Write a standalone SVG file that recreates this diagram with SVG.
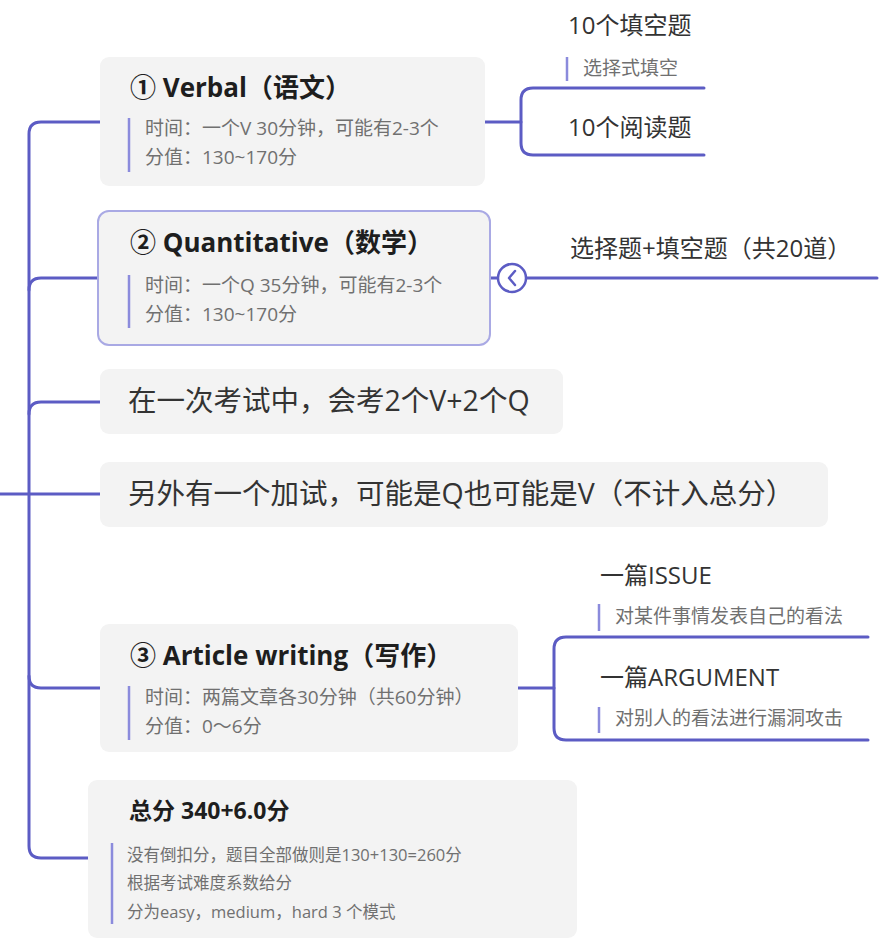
<svg xmlns="http://www.w3.org/2000/svg" width="888" height="946" viewBox="0 0 888 946">
<style>
.box{fill:#f3f3f3}
.ln{fill:none;stroke:#5c5cc4;stroke-width:3;stroke-linecap:round}
.bar{stroke:#8b8bdc;stroke-width:2.5}
text{font-family:"Open Sans","Noto Sans CJK SC",sans-serif}
.title{font-size:26px;font-weight:bold;fill:#1e1e1e}
.sub{font-size:19px;fill:#707070}
.main{font-size:28.5px;fill:#333}
.topic{font-size:24px;fill:#333}
.tsub{font-size:16.5px}
</style>
<rect width="888" height="946" fill="#fff"/>
<g id="connectors">
<path class="ln" d="M100,122 H41 Q29,122 29,134 V846 Q29,858 41,858 H88"/>
<path class="ln" d="M29,290 Q29,278 41,278 H98"/>
<path class="ln" d="M29,414 Q29,402 41,402 H100"/>
<path class="ln" d="M0,494 H100"/>
<path class="ln" d="M29,676 Q29,688 41,688 H100"/>
<path class="ln" d="M485,122 H521"/>
<path class="ln" d="M704,88 H533 Q521,88 521,100 V143 Q521,155 533,155 H704"/>
<path class="ln" d="M490,278 H498"/>
<path class="ln" d="M526,278 H877"/>
<path class="ln" d="M518,688 H554"/>
<path class="ln" d="M868,637 H566 Q554,637 554,649 V728 Q554,740 566,740 H868"/>
</g>
<g id="collapse">
<circle cx="512" cy="278" r="14" fill="#fff" stroke="#5c5cc4" stroke-width="2.5"/>
<path d="M515,271 L509,278 L515,285" fill="none" stroke="#5c5cc4" stroke-width="2.5" stroke-linecap="round" stroke-linejoin="round"/>
</g>
<g id="verbal">
<rect class="box" x="100" y="57" width="385" height="129" rx="9"/>
<text class="title" x="130" y="97">① Verbal（语文）</text>
<line class="bar" x1="129" y1="118" x2="129" y2="172"/>
<text class="sub" x="145" y="135">时间：一个V 30分钟，可能有2-3个</text>
<text class="sub" x="145" y="164">分值：130~170分</text>
</g>
<g id="fill-blank">
<text class="topic" x="568" y="34">10个填空题</text>
<line class="bar" x1="567" y1="57" x2="567" y2="81"/>
<text class="sub" x="583" y="75">选择式填空</text>
</g>
<g id="reading">
<text class="topic" x="568" y="136">10个阅读题</text>
</g>
<g id="quant">
<rect class="box" x="98" y="211" width="392" height="134" rx="11" stroke="#a9a9e4" stroke-width="2"/>
<text class="title" x="130" y="252">② Quantitative（数学）</text>
<line class="bar" x1="129" y1="275" x2="129" y2="328"/>
<text class="sub" x="145" y="292">时间：一个Q 35分钟，可能有2-3个</text>
<text class="sub" x="145" y="321">分值：130~170分</text>
</g>
<g id="quant-types">
<text class="topic" x="570" y="257">选择题+填空题（共20道）</text>
</g>
<g id="exam-count">
<rect class="box" x="100" y="369" width="463" height="65" rx="9"/>
<text class="main" x="128" y="411">在一次考试中，会考2个V+2个Q</text>
</g>
<g id="extra">
<rect class="box" x="100" y="462" width="728" height="65" rx="9"/>
<text class="main" x="128" y="504">另外有一个加试，可能是Q也可能是V（不计入总分）</text>
</g>
<g id="writing">
<rect class="box" x="100" y="624" width="418" height="128" rx="9"/>
<text class="title" x="130" y="665">③ Article writing（写作）</text>
<line class="bar" x1="129" y1="686" x2="129" y2="740"/>
<text class="sub" x="145" y="704">时间：两篇文章各30分钟（共60分钟）</text>
<text class="sub" x="145" y="733">分值：0～6分</text>
</g>
<g id="issue">
<text class="topic" x="600" y="584">一篇ISSUE</text>
<line class="bar" x1="599" y1="604" x2="599" y2="631"/>
<text class="sub" x="615" y="623">对某件事情发表自己的看法</text>
</g>
<g id="argument">
<text class="topic" x="600" y="686">一篇ARGUMENT</text>
<line class="bar" x1="599" y1="707" x2="599" y2="733"/>
<text class="sub" x="615" y="725">对别人的看法进行漏洞攻击</text>
</g>
<g id="total">
<rect class="box" x="88" y="780" width="489" height="158" rx="9"/>
<text x="129" y="819" style="font-size:23px;font-weight:bold;fill:#1e1e1e">总分 340+6.0分</text>
<line class="bar" x1="112" y1="843" x2="112" y2="924"/>
<text class="sub tsub" x="127" y="861">没有倒扣分，题目全部做则是130+130=260分</text>
<text class="sub tsub" x="127" y="889">根据考试难度系数给分</text>
<text class="sub tsub" x="127" y="918">分为easy，medium，hard 3 个模式</text>
</g>
</svg>
